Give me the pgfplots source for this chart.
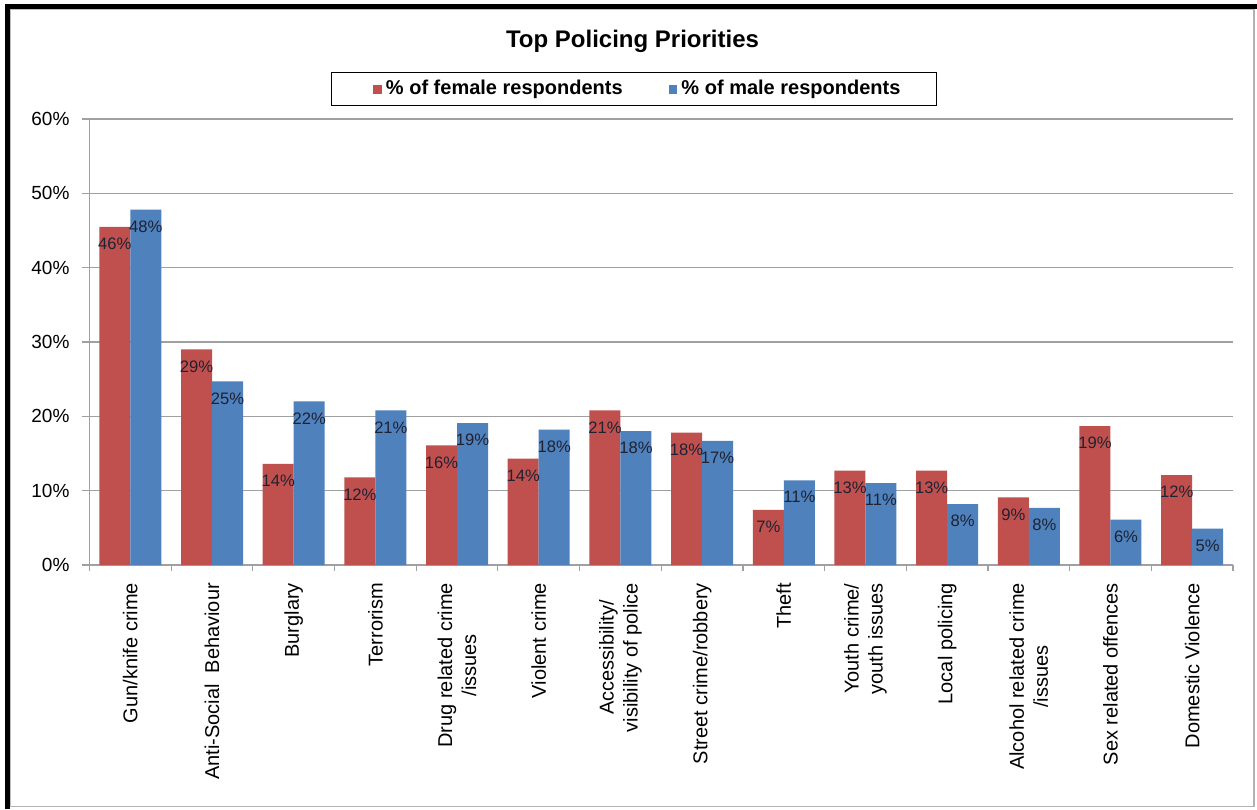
\documentclass[border=0pt]{standalone}
\usepackage{fontspec}
\setmainfont{Liberation Sans}
\usepackage{pgfplots}
\pgfplotsset{compat=1.18}
\usepackage{pgfplotstable}
\definecolor{fem}{HTML}{C0504D}
\definecolor{mal}{HTML}{4F81BD}
\definecolor{gridc}{HTML}{A0A0A0}
\definecolor{lblc}{HTML}{1E2233}

\pgfplotstableread{
x f fl m ml
0 45.5 46 47.8 48
1 29.0 29 24.7 25
2 13.6 14 22.0 22
3 11.8 12 20.8 21
4 16.1 16 19.1 19
5 14.3 14 18.2 18
6 20.8 21 18.0 18
7 17.8 18 16.7 17
8 7.4 7 11.4 11
9 12.7 13 11.0 11
10 12.7 13 8.2 8
11 9.1 9 7.7 8
12 18.7 19 6.1 6
13 12.1 12 4.9 5
}\datatable

\begin{document}
\begin{tikzpicture}
\useasboundingbox (0pt,0pt) rectangle (628.5pt,404.5pt);
\fill[white] (0pt,0pt) rectangle (628.5pt,404.5pt);
% frame
\draw[gray!60, line width=0.6pt] (627pt,401pt) -- (627pt,1.2pt) -- (4pt,1.2pt);
\draw[gray!50, line width=0.5pt] (5.4pt,1.2pt) -- (5.4pt,399.6pt) -- (627pt,399.6pt);
\draw[black, line width=2.3pt] (3.6pt,0pt) -- (3.6pt,401.2pt) -- (628.5pt,401.2pt);
% title
\node[font=\bfseries\fontsize{12}{14}\selectfont, anchor=base] at (316.25pt,380.5pt) {Top Policing Priorities};
\begin{axis}[
  at={(44.75pt,122pt)}, anchor=south west,
  scale only axis, width=571.75pt, height=223pt,
  xmin=-0.5, xmax=13.5, ymin=0, ymax=60,
  enlargelimits=false,
  ybar=0pt, bar width=15.5pt,
  axis x line*=bottom, axis y line*=left,
  axis line style={gridc, line width=0.6pt},
  ytick={0,10,...,60},
  yticklabels={0\%,10\%,20\%,30\%,40\%,50\%,60\%},
  yticklabel style={font=\fontsize{9.5}{11}\selectfont, xshift=-2.5pt},
  ymajorgrids, grid style={gridc, line width=0.6pt},
  xtick={0,...,13},
  minor xtick={-0.5,0.5,...,13.5},
  tick align=outside,
  major tick length=4pt, minor tick length=3pt,
  major x tick style={draw=none},
  minor x tick style={gridc, line width=0.6pt},
  ytick style={gridc, line width=0.6pt},
  xticklabels={Gun/knife crime, Anti-Social\ \ Behaviour, Burglary, Terrorism, {Drug related crime\\/issues}, Violent crime, {Accessibility/\\visibility of police}, Street crime/robbery, Theft, {Youth crime/\\youth issues}, Local policing, {Alcohol related crime\\/issues}, Sex related offences, Domestic Violence},
  xticklabel style={rotate=90, anchor=east, align=center, font=\fontsize{10}{12}\selectfont, xshift=-1.5pt},
  point meta=explicit symbolic,
  nodes near coords={\pgfplotspointmeta\%},
  every node near coord/.append style={anchor=center, yshift=-8.5pt, font=\fontsize{8.3}{9}\selectfont, text=lblc},
  legend style={at={(0.476,1.067)}, anchor=center, legend columns=2, draw=black, line width=0.5pt,
    font=\bfseries\fontsize{10}{12}\selectfont, inner xsep=16pt, inner ysep=2pt,
    /tikz/every even column/.append style={column sep=16pt}},
  legend image code/.code={\path (-5pt,0pt); \fill[#1] (0pt,-2.2pt) rectangle (4.4pt,2.2pt);},
]
\addplot[fill=fem, draw=none] table[x=x, y=f, meta=fl] {\datatable};
\addplot[fill=mal, draw=none] table[x=x, y=m, meta=ml] {\datatable};
\legend{\% of female respondents, \% of male respondents}
\end{axis}
\end{tikzpicture}
\end{document}
